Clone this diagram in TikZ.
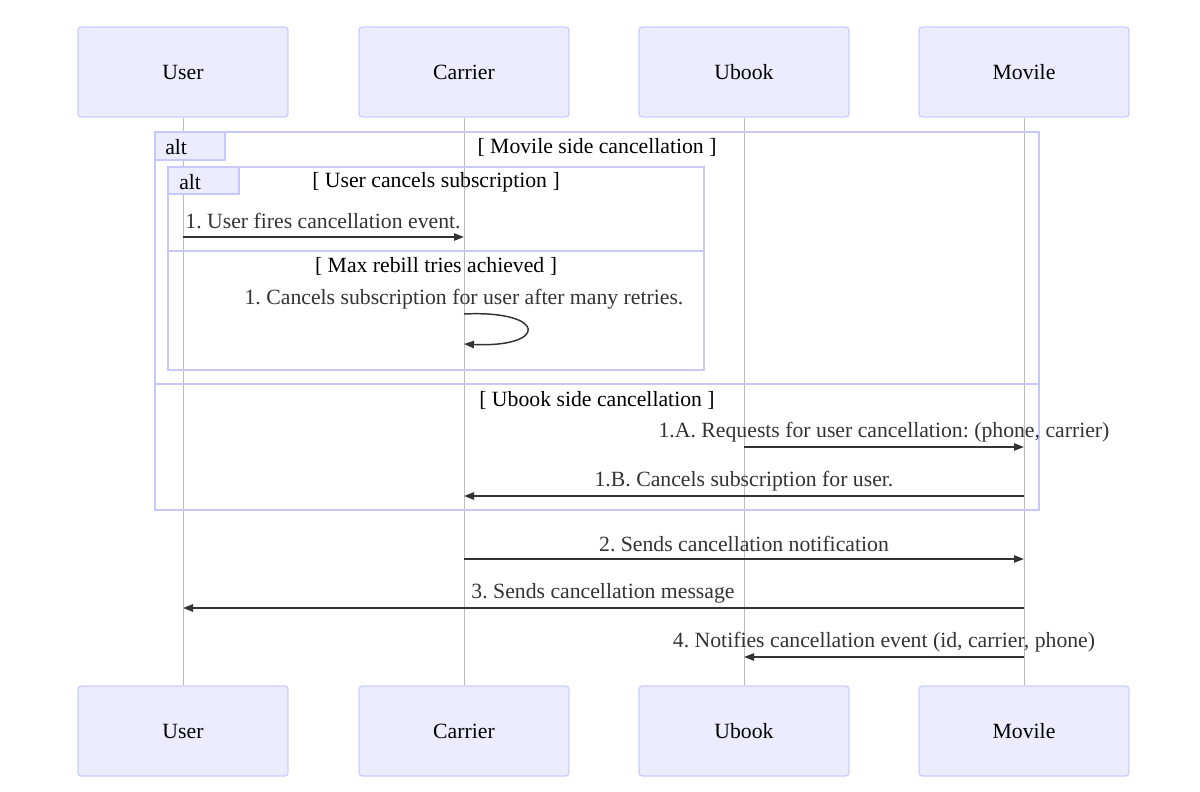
\documentclass[tikz,border=0pt]{standalone}
\usepackage{fontspec}
\setmainfont{Liberation Serif}
\usetikzlibrary{arrows.meta,calc}
\definecolor{actfill}{HTML}{ECECFF}
\definecolor{actdraw}{HTML}{CCCCFF}
\definecolor{altdraw}{HTML}{C8C8FA}
\definecolor{lifeline}{HTML}{BBBBBB}
\definecolor{msgcol}{HTML}{333333}
\frenchspacing
\tikzset{
  actor/.style={draw=actdraw, fill=actfill, line width=1pt, rounded corners=2.5pt,
    minimum width=210*0.75pt, minimum height=90*0.75pt, inner sep=0pt, font=\fontsize{16.3}{19}\selectfont},
  life/.style={draw=lifeline, line width=0.6pt},
  frame/.style={draw=altdraw, line width=1.5pt},
  altlab/.style={draw=altdraw, fill=actfill, line width=1pt},
  ftext/.style={font=\fontsize{16.3}{19}\selectfont, inner sep=0pt, text=black},
  msg/.style={draw=msgcol, line width=1.1pt, -{Triangle[length=7.5pt,width=5.5pt]}},
  mtext/.style={font=\fontsize{16.3}{19}\selectfont, inner sep=0pt, text=msgcol}
}
\begin{document}
\begin{tikzpicture}[x=0.75pt,y=-0.75pt]
\useasboundingbox (0,0) rectangle (1200,792);
% actors
\node[actor] (uT) at (183,72) {\raisebox{-1pt}{User}};
\node[actor] (cT) at (464,72) {\raisebox{-1pt}{Carrier}};
\node[actor] (ubT) at (744,72) {\raisebox{-1pt}{Ubook}};
\node[actor] (mT) at (1024,72) {\raisebox{-1pt}{Movile}};
\node[actor] (uB) at (183,731) {\raisebox{-1pt}{User}};
\node[actor] (cB) at (464,731) {\raisebox{-1pt}{Carrier}};
\node[actor] (ubB) at (744,731) {\raisebox{-1pt}{Ubook}};
\node[actor] (mB) at (1024,731) {\raisebox{-1pt}{Movile}};
% lifelines
\draw[life] (uT) -- (uB);
\draw[life] (cT) -- (cB);
\draw[life] (ubT) -- (ubB);
\draw[life] (mT) -- (mB);
% outer alt
\draw[frame] (155,132) rectangle (1039,510);
\draw[frame] (155,384) -- (1039,384);
\draw[altlab] (155,132) rectangle (225,160);
\node[ftext, anchor=west] (alt1) at (165,147) {alt};
\node[ftext] (g1) at (597,147) {[ Movile side cancellation ]};
\node[ftext] (g2) at (597,400) {[ Ubook side cancellation ]};
% inner alt
\draw[frame] (168,167) rectangle (704,370);
\draw[frame] (168,251) -- (704,251);
\draw[altlab] (168,167) rectangle (239,194);
\node[ftext, anchor=west] (alt2) at (179,182) {alt};
\node[ftext] (g3) at (436,182) {[ User cancels subscription ]};
\node[ftext] (g4) at (436,266) {[ Max rebill tries achieved ]};
% messages
\node[mtext] (t1) at (323,221) {1. User fires cancellation event.};
\draw[msg] (uT |- 0,237) -- (cT |- 0,237);
\node[mtext] (t2) at (464,299) {1. Cancels subscription for user after many retries.};
\coordinate (s1) at (464,314);
\coordinate (s2) at (464,344);
\draw[msg] (s1) .. controls (548,310) and (548,348) .. (s2);
\node[mtext] (t3) at (884,432) {1.A. Requests for user cancellation: (phone, carrier)};
\draw[msg] (ubT |- 0,447) -- (mT |- 0,447);
\node[mtext] (t4) at (744,481) {1.B. Cancels subscription for user.};
\draw[msg] (mT |- 0,496) -- (cT |- 0,496);
\node[mtext] (t5) at (744,544) {2. Sends cancellation notification};
\draw[msg] (cT |- 0,559) -- (mT |- 0,559);
\node[mtext] (t6) at (603,593) {3. Sends cancellation message};
\draw[msg] (mT |- 0,608) -- (uT |- 0,608);
\node[mtext] (t7) at (884,642) {4. Notifies cancellation event (id, carrier, phone)};
\draw[msg] (mT |- 0,657) -- (ubT |- 0,657);
\end{tikzpicture}
\end{document}
